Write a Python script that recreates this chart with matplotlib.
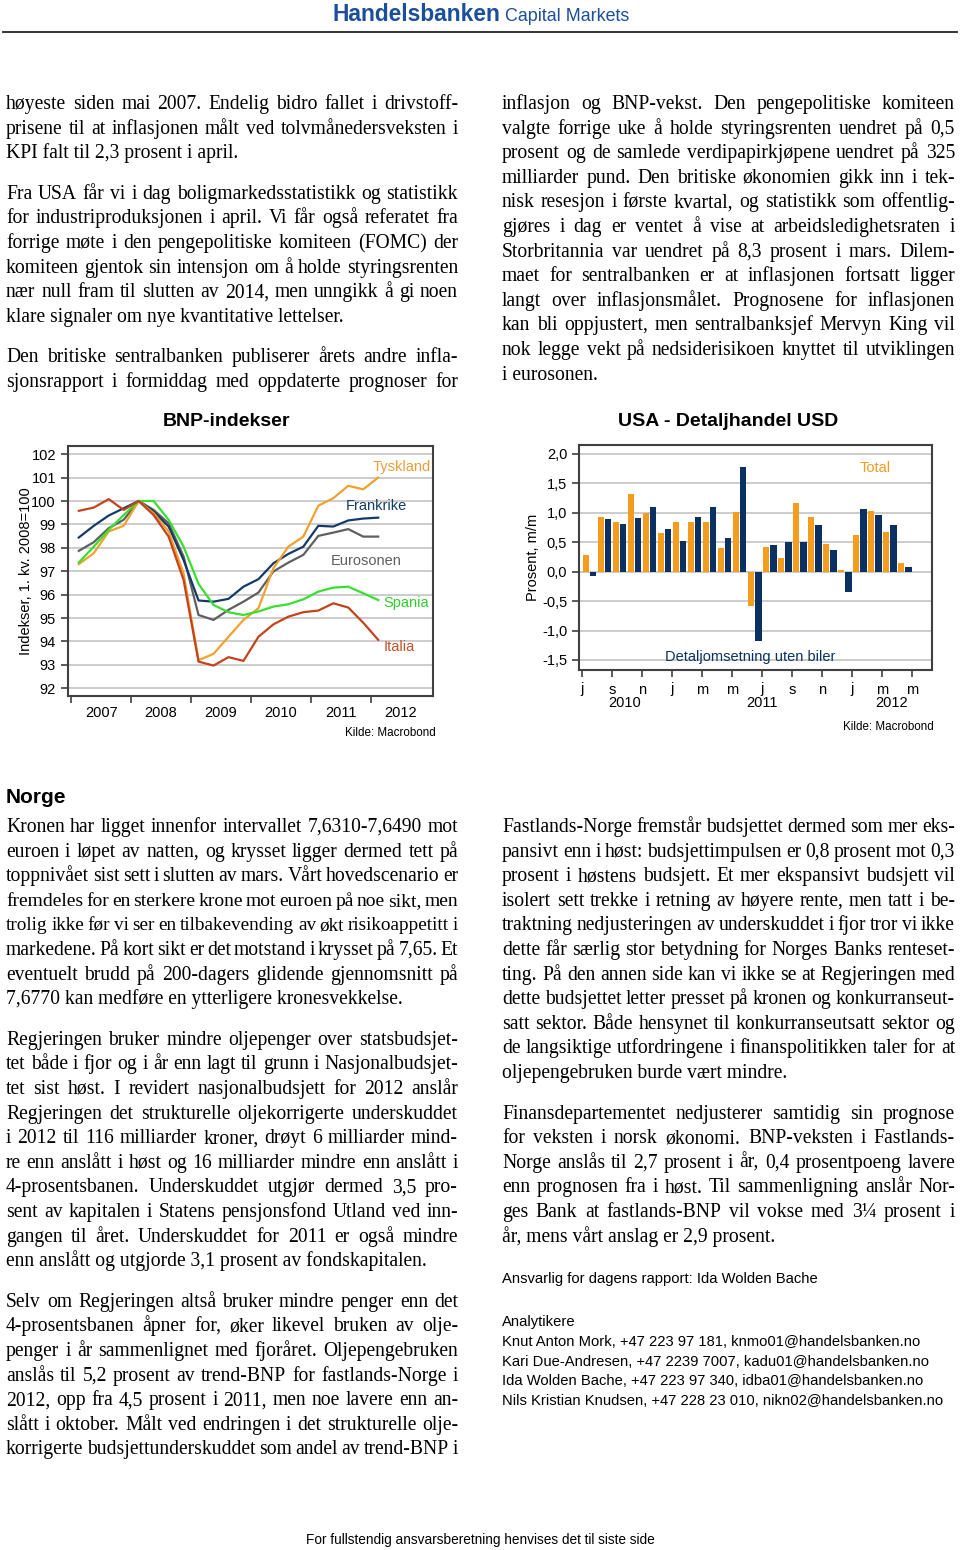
import matplotlib
matplotlib.use('Agg')
import matplotlib.pyplot as plt
import matplotlib.ticker as mticker
from matplotlib.lines import Line2D
import numpy as np

# ---------------------- Data ---------------------- #
# BNP-indekser, kvartalsvis 2007K1 - 2012K1 (1. kv. 2008 = 100)
quarters = ['2007Q1', '2007Q2', '2007Q3', '2007Q4', '2008Q1', '2008Q2', '2008Q3',
            '2008Q4', '2009Q1', '2009Q2', '2009Q3', '2009Q4', '2010Q1', '2010Q2',
            '2010Q3', '2010Q4', '2011Q1', '2011Q2', '2011Q3', '2011Q4', '2012Q1']
tyskland = [97.30, 97.77, 98.70, 98.94, 100.0, 99.48, 98.70, 96.90, 93.20, 93.47, 94.20,
            94.92, 95.42, 97.13, 98.05, 98.48, 99.80, 100.12, 100.65, 100.50, 101.00]
frankrike = [98.44, 98.94, 99.38, 99.69, 100.0, 99.55, 98.91, 97.48, 95.75, 95.70, 95.82,
             96.34, 96.66, 97.34, 97.74, 98.05, 98.94, 98.91, 99.17, 99.25, 99.29]
eurosonen = [97.87, 98.24, 98.84, 99.20, 100.0, 99.62, 99.05, 97.63, 95.13, 94.92, 95.35,
             95.70, 96.09, 96.99, 97.37, 97.70, 98.51, 98.65, 98.80, 98.48, 98.48]
spania = [97.37, 98.05, 98.77, 99.40, 100.0, 100.0, 99.20, 98.05, 96.46, 95.56, 95.25,
          95.13, 95.28, 95.49, 95.59, 95.80, 96.13, 96.30, 96.34, 96.06, 95.77]
italia = [99.58, 99.72, 100.08, 99.62, 100.0, 99.40, 98.48, 96.63, 93.14, 92.97, 93.33,
          93.17, 94.20, 94.73, 95.06, 95.25, 95.32, 95.63, 95.45, 94.80, 94.07]
year_labels = ['2007', '2008', '2009', '2010', '2011', '2012']

# USA detaljhandel, m/m %, jul 2010 - apr 2012
months = ['2010-07', '2010-08', '2010-09', '2010-10', '2010-11', '2010-12',
          '2011-01', '2011-02', '2011-03', '2011-04', '2011-05', '2011-06',
          '2011-07', '2011-08', '2011-09', '2011-10', '2011-11', '2011-12',
          '2012-01', '2012-02', '2012-03', '2012-04']
total = [0.29, 0.92, 0.85, 1.31, 1.00, 0.65, 0.85, 0.85, 0.84, 0.40, 1.02,
         -0.58, 0.42, 0.24, 1.17, 0.93, 0.47, 0.03, 0.63, 1.03, 0.68, 0.15]
uten_biler = [-0.07, 0.90, 0.81, 0.91, 1.10, 0.73, 0.52, 0.92, 1.10, 0.57, 1.77,
              -1.17, 0.45, 0.51, 0.50, 0.80, 0.37, -0.34, 1.07, 0.97, 0.79, 0.08]
month_ticks = ['j', 's', 'n', 'j', 'm', 'm', 'j', 's', 'n', 'j', 'm', 'm']

# ---------------------- Text ---------------------- #
left_top = [
    ["høyeste siden mai 2007. Endelig bidro fallet i drivstoff-",
     "prisene til at inflasjonen målt ved tolvmånedersveksten i",
     "KPI falt til 2,3 prosent i april."],
    ["Fra USA får vi i dag boligmarkedsstatistikk og statistikk",
     "for industriproduksjonen i april. Vi får også referatet fra",
     "forrige møte i den pengepolitiske komiteen (FOMC) der",
     "komiteen gjentok sin intensjon om å holde styringsrenten",
     "nær null fram til slutten av 2014, men unngikk å gi noen",
     "klare signaler om nye kvantitative lettelser."],
    ["Den britiske sentralbanken publiserer årets andre infla-",
     "sjonsrapport i formiddag med oppdaterte prognoser for"],
]
right_top = [
    ["inflasjon og BNP-vekst. Den pengepolitiske komiteen",
     "valgte forrige uke å holde styringsrenten uendret på 0,5",
     "prosent og de samlede verdipapirkjøpene uendret på 325",
     "milliarder pund. Den britiske økonomien gikk inn i tek-",
     "nisk resesjon i første kvartal, og statistikk som offentlig-",
     "gjøres i dag er ventet å vise at arbeidsledighetsraten i",
     "Storbritannia var uendret på 8,3 prosent i mars. Dilem-",
     "maet for sentralbanken er at inflasjonen fortsatt ligger",
     "langt over inflasjonsmålet. Prognosene for inflasjonen",
     "kan bli oppjustert, men sentralbanksjef Mervyn King vil",
     "nok legge vekt på nedsiderisikoen knyttet til utviklingen",
     "i eurosonen."],
]
left_bottom = [
    ["Kronen har ligget innenfor intervallet 7,6310-7,6490 mot",
     "euroen i løpet av natten, og krysset ligger dermed tett på",
     "toppnivået sist sett i slutten av mars. Vårt hovedscenario er",
     "fremdeles for en sterkere krone mot euroen på noe sikt, men",
     "trolig ikke før vi ser en tilbakevending av økt risikoappetitt i",
     "markedene. På kort sikt er det motstand i krysset på 7,65. Et",
     "eventuelt brudd på 200-dagers glidende gjennomsnitt på",
     "7,6770 kan medføre en ytterligere kronesvekkelse."],
    ["Regjeringen bruker mindre oljepenger over statsbudsjet-",
     "tet både i fjor og i år enn lagt til grunn i Nasjonalbudsjet-",
     "tet sist høst. I revidert nasjonalbudsjett for 2012 anslår",
     "Regjeringen det strukturelle oljekorrigerte underskuddet",
     "i 2012 til 116 milliarder kroner, drøyt 6 milliarder mind-",
     "re enn anslått i høst og 16 milliarder mindre enn anslått i",
     "4-prosentsbanen. Underskuddet utgjør dermed 3,5 pro-",
     "sent av kapitalen i Statens pensjonsfond Utland ved inn-",
     "gangen til året. Underskuddet for 2011 er også mindre",
     "enn anslått og utgjorde 3,1 prosent av fondskapitalen."],
    ["Selv om Regjeringen altså bruker mindre penger enn det",
     "4-prosentsbanen åpner for, øker likevel bruken av olje-",
     "penger i år sammenlignet med fjoråret. Oljepengebruken",
     "anslås til 5,2 prosent av trend-BNP for fastlands-Norge i",
     "2012, opp fra 4,5 prosent i 2011, men noe lavere enn an-",
     "slått i oktober. Målt ved endringen i det strukturelle olje-",
     "korrigerte budsjettunderskuddet som andel av trend-BNP i"],
]
right_bottom = [
    ["Fastlands-Norge fremstår budsjettet dermed som mer eks-",
     "pansivt enn i høst: budsjettimpulsen er 0,8 prosent mot 0,3",
     "prosent i høstens budsjett. Et mer ekspansivt budsjett vil",
     "isolert sett trekke i retning av høyere rente, men tatt i be-",
     "traktning nedjusteringen av underskuddet i fjor tror vi ikke",
     "dette får særlig stor betydning for Norges Banks renteset-",
     "ting. På den annen side kan vi ikke se at Regjeringen med",
     "dette budsjettet letter presset på kronen og konkurranseut-",
     "satt sektor. Både hensynet til konkurranseutsatt sektor og",
     "de langsiktige utfordringene i finanspolitikken taler for at",
     "oljepengebruken burde vært mindre."],
    ["Finansdepartementet nedjusterer samtidig sin prognose",
     "for veksten i norsk økonomi. BNP-veksten i Fastlands-",
     "Norge anslås til 2,7 prosent i år, 0,4 prosentpoeng lavere",
     "enn prognosen fra i høst. Til sammenligning anslår Nor-",
     "ges Bank at fastlands-BNP vil vokse med 3¼ prosent i",
     "år, mens vårt anslag er 2,9 prosent."],
]
contacts = ["Knut Anton Mork, +47 223 97 181, knmo01@handelsbanken.no",
            "Kari Due-Andresen, +47 2239 7007, kadu01@handelsbanken.no",
            "Ida Wolden Bache, +47 223 97 340, idba01@handelsbanken.no",
            "Nils Kristian Knudsen, +47 228 23 010, nikn02@handelsbanken.no"]

# ---------------------- Layout ---------------------- #
W, H = 960, 1550
SERIF = 'Liberation Serif'
SANS = 'Liberation Sans'
BODY_SIZE = 14.1
MIN_GAP = 3.0       # px, smallest word gap before the line is shrunk
LINE = 24.6
PARA_GAP = 16

plt.rcParams['font.family'] = [SANS, 'DejaVu Sans']

fig = plt.figure(figsize=(W / 100, H / 100), dpi=100)
fig.patch.set_facecolor('white')
renderer = fig.canvas.get_renderer()


def fx(x):
    return x / W


def fy(y):
    return 1 - y / H


def put_line(line, x0, x1, y, justify):
    if not justify:
        fig.text(fx(x0), fy(y), line, family=SERIF, size=BODY_SIZE, va='baseline')
        return
    words = line.split(' ')
    texts = [fig.text(0, fy(y), w, family=SERIF, size=BODY_SIZE, va='baseline') for w in words]
    size = BODY_SIZE
    while True:
        widths = [t.get_window_extent(renderer).width for t in texts]
        gap = (x1 - x0 - sum(widths)) / max(len(words) - 1, 1)
        if gap >= MIN_GAP or size < 12:
            break
        # overfull line: shrink it a little, like a tight typesetter would
        size -= 0.1
        for t in texts:
            t.set_fontsize(size)
    x = x0
    for t, w in zip(texts, widths):
        t.set_x(fx(x))
        x += w + gap


def put_column(paras, x0, x1, y0, last_justified=False):
    y = y0
    for p_i, para in enumerate(paras):
        for i, line in enumerate(para):
            is_last = i == len(para) - 1
            just = (not is_last) or (last_justified and p_i == len(paras) - 1)
            put_line(line, x0, x1, y, just)
            y += LINE
        y += PARA_GAP
    return y


# header
fig.text(fx(333), fy(21), 'Handelsbanken', family=SANS, weight='bold', size=16.4,
         color='#1B4E9B', va='baseline')
fig.text(fx(505), fy(21), 'Capital Markets', family=SANS, size=12.9,
         color='#1B4E9B', va='baseline')
fig.add_artist(Line2D([fx(3), fx(957)], [fy(32), fy(32)], color='#222222', lw=1.3))

# body text
put_column(left_top, 6, 458, 109, last_justified=True)
put_column(right_top, 502, 955, 109)
fig.text(fx(6), fy(803), 'Norge', family=SANS, weight='bold', size=15, va='baseline')
put_column(left_bottom, 6, 458, 832, last_justified=True)
put_column(right_bottom, 502, 955, 832)

fig.text(fx(502), fy(1283), 'Ansvarlig for dagens rapport: Ida Wolden Bache',
         family=SANS, size=10.6, va='baseline')
fig.text(fx(502), fy(1326), 'Analytikere', family=SANS, size=10.6, va='baseline')
for i, c in enumerate(contacts):
    fig.text(fx(502), fy(1346 + i * 19.7), c, family=SANS, size=10.6, va='baseline')

fig.text(0.5, fy(1544), 'For fullstendig ansvarsberetning henvises det til siste side',
         family=SANS, size=9.8, ha='center', va='baseline')

# ---------------------- Chart 1: BNP-indekser ---------------------- #
SPINE = '#404040'
GRID = '#C8C8C8'
qx = [int(q[:4]) + (int(q[-1]) - 1) * 0.25 + 0.125 for q in quarters]

ax1 = fig.add_axes([fx(67.7), fy(696), (433 - 67.7) / W, (696 - 446) / H])
ax1.plot(qx, eurosonen, color='#5F5F5F', lw=1.6)
ax1.plot(qx, frankrike, color='#143A6B', lw=1.6)
ax1.plot(qx, tyskland, color='#F2A02E', lw=1.6)
ax1.plot(qx, spania, color='#35E02F', lw=1.6)
ax1.plot(qx, italia, color='#C4431B', lw=1.6)
ax1.set_xlim(2006.94, 2013.04)
ax1.set_ylim(91.67, 102.35)
ax1.set_yticks(range(92, 103))
ax1.yaxis.grid(True, color=GRID, lw=1.3)
ax1.set_axisbelow(True)
ax1.set_xticks([2007, 2008, 2009, 2010, 2011, 2012])
ax1.set_xticklabels([])
ax1.set_xticks([int(y) + 0.5 for y in year_labels], minor=True)
ax1.set_xticklabels(year_labels, minor=True)
ax1.tick_params(axis='x', which='minor', length=0, pad=7, labelsize=10.5)
ax1.tick_params(axis='both', which='major', direction='out', length=5,
                color=SPINE, labelsize=10.5, width=1.2)
for s in ax1.spines.values():
    s.set_color(SPINE)
    s.set_linewidth(1.5)
ax1.text(2012.52, 101.46, 'Tyskland', color='#E89E3A', size=10.5, ha='center', va='center')
ax1.text(2012.1, 99.79, 'Frankrike', color='#143A6B', size=10.5, ha='center', va='center')
ax1.text(2011.92, 97.44, 'Eurosonen', color='#5F5F5F', size=10.5, ha='center', va='center')
ax1.text(2012.6, 95.65, 'Spania', color='#2FCC2F', size=10.5, ha='center', va='center')
ax1.text(2012.47, 93.77, 'Italia', color='#C4502A', size=10.5, ha='center', va='center')

fig.text(fx(227), fy(421), 'BNP-indekser', family=SANS, weight='bold', size=14,
         ha='center', va='center')
fig.text(fx(26), fy(571), 'Indekser, 1. kv. 2008=100', family=SANS, size=10.5,
         rotation=90, ha='center', va='center')
fig.text(fx(390), fy(733), 'Kilde: Macrobond', family=SANS, size=8.4, ha='center', va='center')

# ---------------------- Chart 2: USA detaljhandel ---------------------- #
ORANGE = '#F39C1E'
NAVY = '#0B3162'
idx = np.arange(len(months))

ax2 = fig.add_axes([fx(579), fy(670), (931.7 - 579) / W, (670 - 445) / H])
ax2.bar(idx + 0.25, total, width=0.42, color=ORANGE, zorder=3)
ax2.bar(idx + 0.75, uten_biler, width=0.42, color=NAVY, zorder=3)
ax2.set_xlim(-0.2, 23.3)
ax2.set_ylim(-1.67, 2.15)
ax2.set_yticks(np.arange(-1.5, 2.01, 0.5))
ax2.yaxis.set_major_formatter(mticker.FuncFormatter(lambda v, p: f'{v:.1f}'.replace('.', ',')))
ax2.yaxis.grid(True, color=GRID, lw=1.3)
ax2.set_axisbelow(True)
ax2.set_xticks(np.arange(0, 24, 2))
ax2.set_xticklabels(month_ticks)
ax2.tick_params(axis='both', direction='out', length=5, color=SPINE, labelsize=10.5, width=1.2)
ax2.tick_params(axis='x', pad=4)
for s in ax2.spines.values():
    s.set_color(SPINE)
    s.set_linewidth(1.5)
ax2.text(0.84, 0.9, 'Total', transform=ax2.transAxes, color=ORANGE, size=10.5,
         ha='center', va='center')
ax2.text(0.485, 0.057, 'Detaljomsetning uten biler', transform=ax2.transAxes,
         color=NAVY, size=10.5, ha='center', va='center')

for lbl, x in [('2010', 625), ('2011', 762), ('2012', 892)]:
    fig.text(fx(x), fy(703), lbl, family=SANS, size=10.5, ha='center', va='center')
fig.text(fx(728), fy(421), 'USA - Detaljhandel USD', family=SANS, weight='bold', size=14,
         ha='center', va='center')
fig.text(fx(533), fy(557), 'Prosent, m/m', family=SANS, size=10.5,
         rotation=90, ha='center', va='center')
fig.text(fx(888), fy(727), 'Kilde: Macrobond', family=SANS, size=8.4, ha='center', va='center')

fig.savefig('out.png', dpi=100)
